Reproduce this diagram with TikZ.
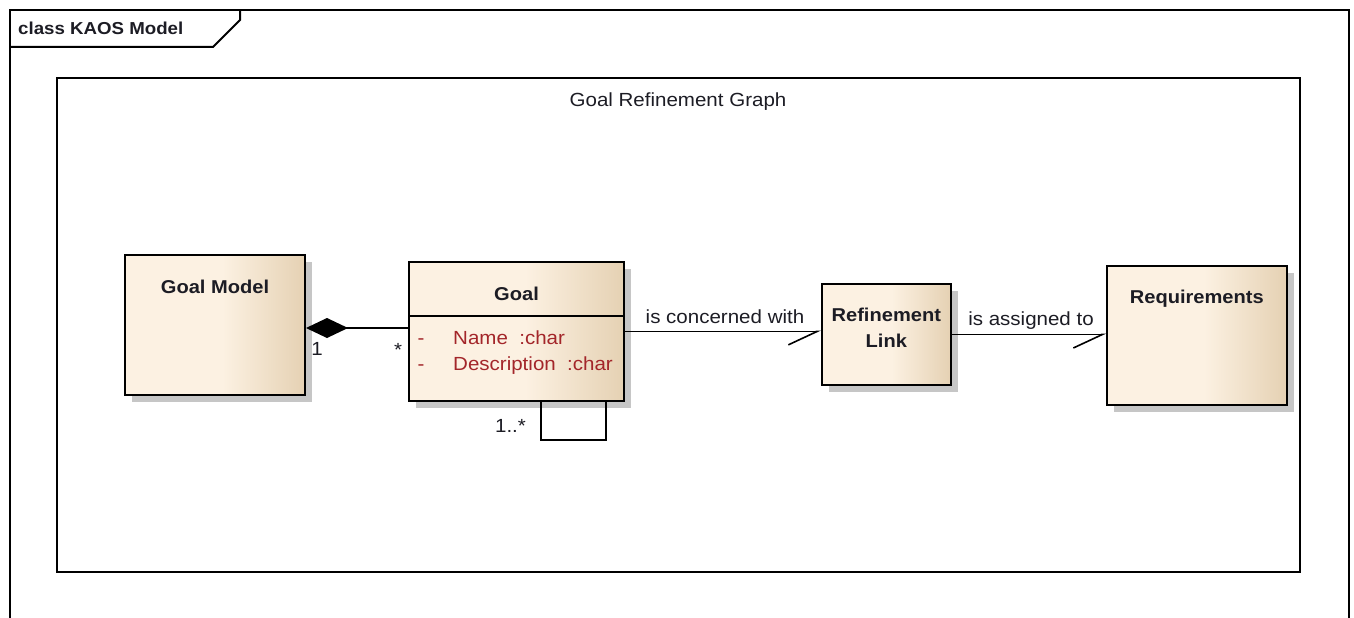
\documentclass[tikz,border=0pt]{standalone}
\usepackage{fontspec}
\setmainfont[FakeStretch=1.08]{Liberation Sans}
\usetikzlibrary{arrows.meta,shadows}

\definecolor{boxlight}{HTML}{FCF1E2}
\definecolor{boxdark}{HTML}{E5D1B3}
\definecolor{attrred}{HTML}{A3262A}
\definecolor{inktext}{HTML}{1C1C24}
\definecolor{shadowgray}{HTML}{C6C6C6}

% cream fill that darkens towards the right edge of each class box
\pgfdeclarehorizontalshading{classfill}{100bp}{%
  color(0bp)=(boxlight); color(25bp)=(boxlight); color(52bp)=(boxlight);
  color(75bp)=(boxdark); color(100bp)=(boxdark)}

\tikzset{
  classbox/.style={draw=black, line width=2pt, shading=classfill,
    drop shadow={shadow xshift=7pt, shadow yshift=-7pt, fill=shadowgray, opacity=1},
    inner sep=0pt},
  boldtext/.style={font=\fontsize{18.6}{22}\selectfont\bfseries, text=inktext, inner sep=0pt},
  plaintext/.style={font=\fontsize{19}{22}\selectfont, text=inktext, inner sep=0pt},
  attrtext/.style={font=\fontsize{19}{22}\selectfont, text=attrred, inner sep=0pt},
  link/.style={draw=black, line width=1.6pt},
  openhalf/.style={-{Straight Barb[right, length=29pt, width=27pt, line width=1.6pt]}},
}

\begin{document}
\begin{tikzpicture}[x=1pt, y=-1pt]
\useasboundingbox (0,0) rectangle (1354,618);

% diagram frame with its name tab
\draw[line width=2pt] (10,640) -- (10,10) -- (1349,10) -- (1349,640);
\draw[line width=2pt] (10,47) -- (213,47) -- (240,20) -- (240,10);
\node[boldtext, font=\fontsize{17.3}{20}\selectfont\bfseries, anchor=base west] (frametitle) at (18,35) {class KAOS Model};

% boundary
\draw[line width=1.8pt] (56.7,78.3) rectangle (1300,572.3);
\node[plaintext, anchor=base] (boundtitle) at (678,106) {Goal Refinement Graph};

% classes
\node[classbox, minimum width=180pt, minimum height=140pt] (gm) at (215,325) {};
\node[boldtext, anchor=base] (gmtitle) at (215,293.3) {Goal Model};

\node[classbox, minimum width=215pt, minimum height=138.7pt] (goal) at (516.5,331.35) {};
\draw[line width=2pt] ([yshift=-54.7pt]goal.north west) coordinate (divl) -- (divl -| goal.east);
\node[boldtext, anchor=base] (goaltitle) at (516.5,300) {Goal};
\node[attrtext, anchor=base] (dash1) at (421,344) {-};
\node[attrtext, anchor=base west] (attr1) at (453,344) {Name\ \ :char};
\node[attrtext, anchor=base] (dash2) at (421,370) {-};
\node[attrtext, anchor=base west] (attr2) at (453,370) {Description\ \ :char};

\node[classbox, minimum width=128.7pt, minimum height=101pt] (ref) at (886.3,334.5) {};
\node[boldtext, anchor=base] (reftitle1) at (886.3,321.7) {Refinement};
\node[boldtext, anchor=base] (reftitle2) at (886.3,347.3) {Link};

\node[classbox, minimum width=179.7pt, minimum height=139.3pt] (req) at (1196.8,335.3) {};
\node[boldtext, anchor=base] (reqtitle) at (1196.8,303.3) {Requirements};

% composition: Goal Model owns Goal
\draw[link, {Diamond[length=42pt, width=20pt]}-] ([yshift=-3pt]gm.east) -- ([yshift=-3pt]gm.east -| goal.west);
\node[plaintext, anchor=base] (m1) at (317,355) {1};
\node[plaintext, anchor=base] (m2) at (398,356) {*};

% recursive refinement of goals
\draw[link] ([xshift=133pt]goal.south west) -- ++(0,38) -| ([xshift=198pt]goal.south west);
\node[plaintext, anchor=base] (m3) at (510.5,432.7) {1..*};

% associations
\draw[link, openhalf] (goal.east) -- (goal.east -| ref.west);
\node[plaintext, anchor=base] (lab1) at (725,323.3) {is concerned with};
\draw[link, openhalf] (ref.east) -- (ref.east -| req.west);
\node[plaintext, anchor=base] (lab2) at (1031,325) {is assigned to};
\end{tikzpicture}
\end{document}
